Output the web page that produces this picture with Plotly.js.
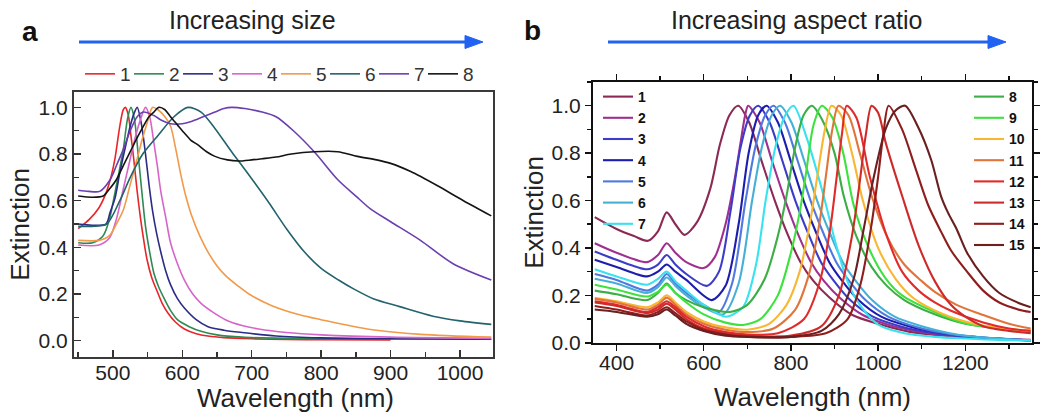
<!DOCTYPE html>
<html><head><meta charset="utf-8">
<script src="https://cdn.plot.ly/plotly-3.0.1.min.js"></script>
<style>html,body{margin:0;padding:0;background:#fff}#chart{width:1043px;height:417px}</style>
</head><body><div id="chart"></div>
<script>
// ---------- Panel a: increasing size (wavelength nm, normalized extinction) ----------
const sizeLabels = ['1','2','3','4','5','6','7','8'];
const a1x = [450,466,480,491,498,503,510,515,518,522,526,530,535,540,545,549,556,564,571,579,590,603,620,637,660,700,750,800,900];
const a1y = [0.48,0.52,0.57,0.64,0.71,0.78,0.92,0.99,1.0,0.97,0.88,0.78,0.64,0.52,0.42,0.35,0.27,0.21,0.16,0.12,0.08,0.05,0.03,0.02,0.013,0.008,0.005,0.004,0.003];
const a2x = [450,471,486,495,500,508,515,521,526,531,537,542,547,553,559,566,574,583,593,610,627,650,686,750,850,1045];
const a2y = [0.42,0.42,0.45,0.52,0.59,0.71,0.82,0.95,1.0,0.95,0.78,0.63,0.49,0.38,0.29,0.23,0.18,0.13,0.09,0.06,0.04,0.025,0.015,0.01,0.008,0.006];
const a3x = [450,470,490,496,503,510,518,525,530,535,541,547,552,557,563,569,576,583,593,603,620,637,660,686,735,800,900,1045];
const a3y = [0.50,0.495,0.50,0.55,0.61,0.72,0.83,0.92,0.97,1.0,0.93,0.80,0.67,0.56,0.46,0.38,0.30,0.24,0.18,0.14,0.09,0.06,0.045,0.035,0.02,0.012,0.008,0.006];
const a4x = [450,480,495,505,515,525,533,540,547,553,559,564,569,576,583,593,603,615,627,645,662,686,710,750,800,900,1045];
const a4y = [0.41,0.41,0.44,0.52,0.65,0.78,0.88,0.95,1.0,0.96,0.85,0.75,0.64,0.53,0.42,0.33,0.26,0.20,0.16,0.12,0.09,0.065,0.05,0.035,0.025,0.015,0.01];
const a5x = [450,480,495,505,515,525,535,542,549,557,565,575,583,590,598,605,613,625,637,650,662,680,696,729,770,800,871,943,1045];
const a5y = [0.43,0.43,0.45,0.50,0.56,0.67,0.78,0.86,0.93,1.0,0.99,0.96,0.92,0.83,0.71,0.62,0.54,0.45,0.38,0.32,0.28,0.235,0.20,0.15,0.11,0.09,0.048,0.027,0.015];
const a6x = [450,470,491,510,525,543,565,588,608,627,647,671,696,725,750,776,800,825,848,875,913,961,1000,1045];
const a6y = [0.49,0.49,0.50,0.60,0.70,0.80,0.88,0.96,1.0,0.98,0.91,0.81,0.71,0.59,0.48,0.38,0.31,0.26,0.22,0.18,0.146,0.105,0.085,0.07];
const a7x = [450,465,481,496,505,515,525,535,544,559,570,583,600,613,630,647,660,671,690,715,735,760,790,824,850,871,900,943,990,1045];
const a7y = [0.645,0.64,0.64,0.69,0.75,0.82,0.90,0.96,0.98,0.965,0.945,0.93,0.93,0.94,0.96,0.98,0.995,1.0,0.995,0.98,0.96,0.90,0.81,0.69,0.62,0.565,0.51,0.43,0.33,0.26];
const a8x = [450,470,486,495,505,515,525,535,544,552,559,566,575,583,593,603,612,622,635,647,665,681,700,715,735,757,790,824,852,880,900,929,967,1005,1045];
const a8y = [0.62,0.615,0.62,0.65,0.69,0.75,0.81,0.87,0.92,0.96,0.98,1.0,0.99,0.96,0.925,0.89,0.86,0.84,0.81,0.79,0.775,0.77,0.775,0.78,0.787,0.80,0.81,0.81,0.79,0.775,0.76,0.725,0.665,0.60,0.535];

// ---------- Panel b: increasing aspect ratio ----------
const ratioLabels = ['1','2','3','4','5','6','7','8','9','10','11','12','13','14','15'];
const b1x = [350,400,440,472,495,515,535,556,585,615,637,659,679,704,733,763,793,822,852,889,941,1000,1073,1188,1350];
const b1y = [0.53,0.48,0.45,0.43,0.47,0.55,0.50,0.455,0.51,0.65,0.835,0.96,1.0,0.93,0.765,0.60,0.455,0.34,0.26,0.19,0.117,0.08,0.046,0.025,0.01];
const b2x = [350,400,470,495,515,535,560,600,625,650,670,685,695,702,728,757,787,817,846,876,912,965,1025,1100,1200,1350];
const b2y = [0.42,0.38,0.34,0.37,0.42,0.38,0.34,0.315,0.36,0.50,0.68,0.85,0.96,1.0,0.93,0.765,0.60,0.455,0.34,0.26,0.19,0.117,0.075,0.045,0.025,0.012];
const b3x = [350,400,470,495,515,535,560,607,635,661,684,706,725,751,780,810,840,869,899,936,988,1050,1130,1230,1350];
const b3y = [0.385,0.35,0.31,0.33,0.37,0.33,0.29,0.24,0.30,0.55,0.82,0.96,1.0,0.93,0.77,0.60,0.46,0.34,0.26,0.18,0.11,0.07,0.04,0.02,0.01];
const b4x = [350,400,470,495,515,535,560,618,650,680,703,725,744,770,799,829,859,888,918,955,1007,1070,1150,1250,1350];
const b4y = [0.35,0.32,0.28,0.30,0.33,0.30,0.265,0.18,0.24,0.50,0.80,0.96,1.0,0.93,0.77,0.60,0.46,0.34,0.26,0.18,0.11,0.07,0.04,0.02,0.01];
const b5x = [350,400,470,495,515,535,560,600,635,665,696,719,741,760,786,815,845,875,904,934,971,1023,1090,1170,1260,1350];
const b5y = [0.29,0.265,0.22,0.245,0.29,0.25,0.21,0.16,0.13,0.25,0.60,0.83,0.96,1.0,0.93,0.77,0.60,0.46,0.34,0.26,0.18,0.11,0.065,0.035,0.02,0.01];
const b6x = [350,400,470,495,515,535,560,600,645,680,711,734,756,775,801,830,860,890,919,949,986,1038,1100,1180,1260,1350];
const b6y = [0.27,0.25,0.21,0.235,0.275,0.24,0.20,0.15,0.12,0.25,0.60,0.83,0.96,1.0,0.93,0.77,0.60,0.46,0.34,0.26,0.18,0.11,0.07,0.035,0.02,0.01];
const b7x = [350,400,470,495,515,535,560,600,650,690,720,742,765,787,806,837,875,904,934,964,1001,1060,1130,1200,1280,1350];
const b7y = [0.31,0.28,0.245,0.27,0.30,0.26,0.22,0.16,0.11,0.15,0.33,0.60,0.83,0.96,1.0,0.86,0.62,0.41,0.24,0.145,0.075,0.04,0.025,0.018,0.012,0.01];
const b8x = [350,400,470,495,515,535,560,600,660,700,740,770,790,807,829,848,872,900,921,950,985,1020,1060,1130,1200,1280,1350];
const b8y = [0.22,0.205,0.18,0.21,0.25,0.21,0.18,0.15,0.13,0.16,0.27,0.45,0.62,0.80,0.96,1.0,0.94,0.80,0.62,0.45,0.32,0.24,0.18,0.12,0.08,0.06,0.045];
const b9x = [350,400,470,495,515,535,560,600,650,690,730,770,800,820,835,852,871,895,920,944,981,1018,1055,1130,1204,1280,1350];
const b9y = [0.245,0.225,0.195,0.215,0.245,0.21,0.17,0.12,0.085,0.075,0.10,0.20,0.38,0.55,0.72,0.92,1.0,0.95,0.80,0.58,0.39,0.27,0.20,0.13,0.08,0.06,0.05];
const b10x = [350,400,470,495,515,535,560,600,650,700,750,790,820,845,862,878,893,915,940,965,1000,1040,1080,1150,1220,1290,1350];
const b10y = [0.19,0.175,0.15,0.17,0.20,0.17,0.13,0.09,0.065,0.055,0.08,0.16,0.30,0.52,0.72,0.90,1.0,0.96,0.80,0.60,0.40,0.27,0.19,0.12,0.08,0.06,0.05];
const b11x = [350,400,470,495,515,535,560,600,650,700,760,810,840,865,880,895,909,932,958,985,1020,1060,1100,1130,1180,1241,1300,1350];
const b11y = [0.185,0.17,0.14,0.16,0.19,0.16,0.12,0.08,0.055,0.045,0.06,0.14,0.28,0.50,0.70,0.90,1.0,0.96,0.80,0.62,0.45,0.33,0.26,0.215,0.16,0.117,0.08,0.06];
const b12x = [350,400,470,495,515,535,560,600,650,700,770,830,865,890,905,917,928,950,981,1018,1055,1093,1130,1167,1241,1300,1350];
const b12y = [0.175,0.16,0.13,0.15,0.175,0.15,0.11,0.07,0.045,0.035,0.04,0.10,0.25,0.48,0.70,0.88,1.0,0.95,0.70,0.46,0.30,0.22,0.17,0.135,0.085,0.06,0.05];
const b13x = [350,400,470,495,515,535,560,600,650,700,800,870,910,940,958,972,985,1000,1018,1055,1093,1130,1167,1200,1241,1300,1350];
const b13y = [0.17,0.155,0.125,0.14,0.165,0.14,0.10,0.06,0.04,0.03,0.03,0.07,0.20,0.45,0.68,0.88,1.0,0.97,0.84,0.62,0.41,0.26,0.16,0.11,0.07,0.05,0.04];
const b14x = [350,400,470,495,515,535,560,600,650,700,800,880,930,960,985,1000,1012,1024,1055,1085,1115,1144,1167,1204,1241,1278,1333,1350];
const b14y = [0.155,0.14,0.115,0.13,0.15,0.125,0.09,0.055,0.035,0.025,0.025,0.04,0.10,0.25,0.50,0.70,0.88,1.0,0.90,0.74,0.58,0.47,0.39,0.30,0.22,0.17,0.135,0.13];
const b15x = [350,400,470,495,515,535,560,600,650,700,800,870,910,944,967,989,1018,1040,1062,1093,1122,1144,1160,1180,1204,1241,1278,1333,1350];
const b15y = [0.14,0.13,0.11,0.12,0.14,0.115,0.08,0.05,0.03,0.025,0.025,0.05,0.12,0.27,0.48,0.69,0.905,0.98,1.0,0.905,0.77,0.62,0.55,0.48,0.38,0.28,0.21,0.16,0.15];

// ---------- styles ----------
const aColors = ['#e8262a','#2f8a52','#2c2c86','#d765c9','#f09a4a','#22636e','#6b3fb0','#141414'];
const bColors = ['#8c2a55','#a0308f','#3c3cc8','#1c1cae','#5078e0','#45b0d6','#38e2ef','#3cae45','#3ee23e','#f8b733','#e0743a','#e22a2a','#cf2a2a','#8e1d1d','#6b1f1f'];

const W = 1043, H = 417;
const px = v => v / W;
const py = v => 1 - v / H;

const aX = [a1x,a2x,a3x,a4x,a5x,a6x,a7x,a8x];
const aY = [a1y,a2y,a3y,a4y,a5y,a6y,a7y,a8y];
const bX = [b1x,b2x,b3x,b4x,b5x,b6x,b7x,b8x,b9x,b10x,b11x,b12x,b13x,b14x,b15x];
const bY = [b1y,b2y,b3y,b4y,b5y,b6y,b7y,b8y,b9y,b10y,b11y,b12y,b13y,b14y,b15y];

const traces = [];
aX.forEach((xs, i) => traces.push({
  type: 'scatter', mode: 'lines', x: xs, y: aY[i], name: sizeLabels[i],
  xaxis: 'x', yaxis: 'y', legend: 'legend',
  legendwidth: i === aX.length - 1 ? 16 : 4,
  line: {color: aColors[i], width: 1.6, shape: 'spline', smoothing: 0.8}
}));
bX.forEach((xs, i) => traces.push({
  type: 'scatter', mode: 'lines', x: xs, y: bY[i], name: ratioLabels[i],
  xaxis: 'x2', yaxis: 'y2', legend: i < 7 ? 'legend2' : 'legend3',
  line: {color: bColors[i], width: 2.1, shape: 'spline', smoothing: 0.8}
}));

const FONT = 'Liberation Sans, Arial, sans-serif';
const tickFont = {family: FONT, size: 21, color: '#222'};
const titleFont = {family: FONT, size: 26, color: '#222'};

const layout = {
  width: W, height: H,
  margin: {l: 0, r: 0, t: 0, b: 0},
  paper_bgcolor: '#fff', plot_bgcolor: '#fff',
  font: {family: FONT},
  xaxis: {
    domain: [px(74), px(493)], range: [444, 1047.5], anchor: 'y',
    tick0: 500, dtick: 100, ticks: 'inside', ticklen: 7, tickwidth: 1.5, tickcolor: '#333',
    minor: {dtick: 50, ticks: 'inside', ticklen: 5, tickwidth: 1.5, tickcolor: '#333'},
    showline: true, mirror: true, linewidth: 2, linecolor: '#3a3a3a',
    showgrid: false, zeroline: false, tickfont: tickFont, ticklabelstandoff: -4
  },
  yaxis: {
    domain: [1 - 357 / H, 1 - 92 / H], range: [-0.07, 1.066], anchor: 'x',
    tick0: 0, dtick: 0.2, tickformat: '.1f', ticks: 'inside', ticklen: 7, tickwidth: 1.5, tickcolor: '#333',
    minor: {dtick: 0.1, ticks: 'inside', ticklen: 5, tickwidth: 1.5, tickcolor: '#333'},
    showline: true, mirror: true, linewidth: 2, linecolor: '#3a3a3a',
    showgrid: false, zeroline: false, tickfont: tickFont,
    title: {text: 'Extinction', font: titleFont, standoff: 1}
  },
  xaxis2: {
    domain: [px(593), px(1032)], range: [346, 1353], anchor: 'y2',
    tick0: 400, dtick: 200, ticks: 'outside', ticklen: 6, tickwidth: 1.5, tickcolor: '#111',
    minor: {dtick: 100, ticks: 'outside', ticklen: 4, tickwidth: 1.5, tickcolor: '#111'},
    showline: true, mirror: 'ticks', linewidth: 2, linecolor: '#111',
    showgrid: false, zeroline: false, tickfont: tickFont, ticklabelstandoff: -6,
    title: {text: 'Wavelength (nm)', font: titleFont, standoff: 15}
  },
  yaxis2: {
    domain: [1 - 343 / H, 1 - 82 / H], range: [-0.001, 1.10], anchor: 'x2',
    tick0: 0, dtick: 0.2, tickformat: '.1f', ticks: 'outside', ticklen: 6, tickwidth: 1.5, tickcolor: '#111',
    minor: {dtick: 0.1, ticks: 'outside', ticklen: 4, tickwidth: 1.5, tickcolor: '#111'},
    showline: true, mirror: 'ticks', linewidth: 2, linecolor: '#111',
    showgrid: false, zeroline: false, tickfont: tickFont,
    title: {text: 'Extinction', font: titleFont, standoff: 0}
  },
  legend: {
    orientation: 'h', x: px(80), y: py(55), xanchor: 'left', yanchor: 'top',
    font: {family: FONT, size: 19, color: '#333'}, itemwidth: 30,
    bgcolor: 'rgba(0,0,0,0)', borderwidth: 0, itemclick: false, itemdoubleclick: false
  },
  legend2: {
    x: px(598), y: py(81), xanchor: 'left', yanchor: 'top',
    font: {family: FONT, size: 14, color: '#111', weight: 'bold'}, itemwidth: 30,
    bgcolor: 'rgba(0,0,0,0)', borderwidth: 0, tracegroupgap: 0, itemclick: false, itemdoubleclick: false
  },
  legend3: {
    x: px(969), y: py(81), xanchor: 'left', yanchor: 'top',
    font: {family: FONT, size: 14, color: '#111', weight: 'bold'}, itemwidth: 30,
    bgcolor: 'rgba(0,0,0,0)', borderwidth: 0, tracegroupgap: 0, itemclick: false, itemdoubleclick: false
  },
  annotations: [
    {text: 'a', x: px(30), y: py(32), xref: 'paper', yref: 'paper', showarrow: false,
     font: {family: FONT, size: 28, color: '#111', weight: 'bold'}, xanchor: 'center', yanchor: 'middle'},
    {text: 'b', x: px(532), y: py(30), xref: 'paper', yref: 'paper', showarrow: false,
     font: {family: FONT, size: 28, color: '#111', weight: 'bold'}, xanchor: 'center', yanchor: 'middle'},
    {text: 'Increasing size', x: px(252), y: py(20), xref: 'paper', yref: 'paper', showarrow: false,
     font: {family: FONT, size: 25, color: '#222'}, xanchor: 'center', yanchor: 'middle'},
    {text: 'Increasing aspect ratio', x: px(797), y: py(20), xref: 'paper', yref: 'paper', showarrow: false,
     font: {family: FONT, size: 25, color: '#222'}, xanchor: 'center', yanchor: 'middle'},
    {text: 'Wavelength (nm)', x: px(295), y: py(398), xref: 'paper', yref: 'paper', showarrow: false,
     font: titleFont, xanchor: 'center', yanchor: 'middle'}
  ],
  shapes: [
    {type: 'line', xref: 'paper', yref: 'paper', x0: px(79), x1: px(470), y0: py(42), y1: py(42),
     line: {color: '#2262f2', width: 3}},
    {type: 'path', xref: 'paper', yref: 'paper',
     path: `M ${px(465)} ${py(35.5)} L ${px(483)} ${py(42)} L ${px(465)} ${py(48.5)} Z`,
     fillcolor: '#2262f2', line: {color: '#2262f2', width: 1}},
    {type: 'line', xref: 'paper', yref: 'paper', x0: px(608), x1: px(993), y0: py(42), y1: py(42),
     line: {color: '#2262f2', width: 3}},
    {type: 'path', xref: 'paper', yref: 'paper',
     path: `M ${px(988)} ${py(35.5)} L ${px(1006)} ${py(42)} L ${px(988)} ${py(48.5)} Z`,
     fillcolor: '#2262f2', line: {color: '#2262f2', width: 1}}
  ],
  showlegend: true
};

Plotly.newPlot('chart', traces, layout, {staticPlot: true, displayModeBar: false});
</script>
</body></html>
